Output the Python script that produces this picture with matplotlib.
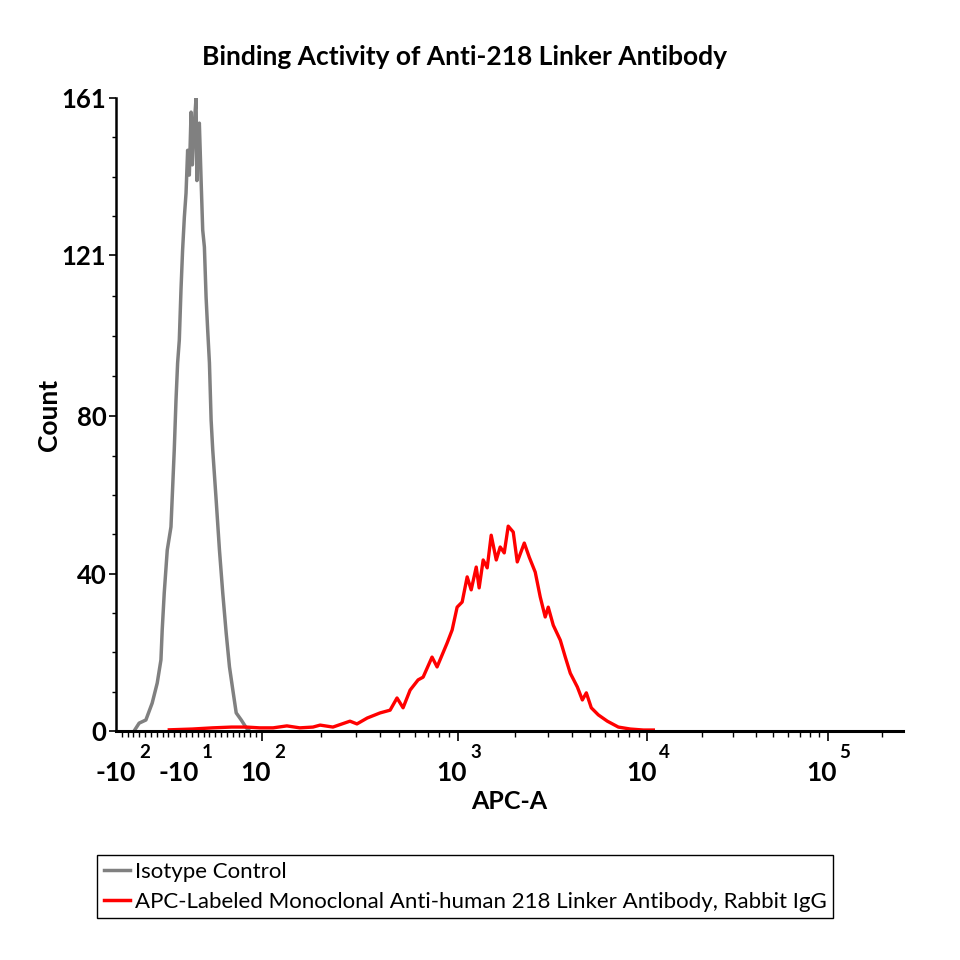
import matplotlib
matplotlib.use('Agg')
import matplotlib.pyplot as plt
import numpy as np
from matplotlib.lines import Line2D

plt.rcParams['font.family'] = ['Lato', 'DejaVu Sans']

# ---- data ----
gray_x = [-82.4, -75.2, -65.6, -56.6, -49.4, -44.1, -42.3, -39.4, -35.1, -29.8,
          -25.1, -22.6, -20.3, -17.9, -15.5, -13.2, -10.7, -8.3, -6.0, -3.6,
          -1.1, 0.7, 2.9, 6.0, 7.2, 8.3, 10.7, 13.2, 15.5, 17.9,
          20.3, 22.6, 25.1, 27.5, 29.8, 34.7, 39.4, 44.1, 49.0, 53.7,
          58.5, 63.3, 70.5, 77.7, 82.4]
gray_y = [0.0, 2.0, 2.8, 7.1, 12.2, 18.1, 25.7, 35.1, 46.0, 51.9,
          71.5, 84.2, 93.6, 99.4, 112.2, 122.3, 130.7, 136.8, 147.7, 141.4,
          157.4, 144.0, 152.8, 161.0, 140.0, 150.3, 154.6, 140.1, 127.4, 123.1,
          110.4, 102.0, 93.6, 79.1, 71.5, 58.7, 46.0, 35.1, 24.9, 16.3,
          10.4, 4.6, 2.8, 0.8, 0.0]

red_x = [-32.2, 0.7, 29.4, 56.6, 78.1, 96.7, 114, 134, 156, 182,
         198, 230, 281, 305, 344, 400, 450, 488, 524, 569,
         625, 663, 736, 781, 879, 932, 988, 1050, 1116, 1172,
         1246, 1291, 1356, 1424, 1495, 1590, 1668, 1752, 1839, 1955,
         2053, 2236, 2376, 2555, 2715, 2885, 2993, 3182, 3466, 3683,
         3914, 4265, 4533, 4758, 5054, 5506, 6142, 7025, 8128, 9524, 10790]
red_y = [0.3, 0.5, 0.8, 1.0, 1.0, 0.8, 0.8, 1.3, 0.8, 1.0,
         1.5, 1.0, 2.5, 1.8, 3.3, 4.6, 5.3, 8.4, 5.9, 10.4,
         13.0, 13.7, 18.8, 16.3, 22.4, 25.7, 31.5, 32.8, 39.2, 35.9,
         41.7, 36.4, 43.5, 41.5, 49.8, 43.5, 46.8, 45.3, 52.1, 50.6,
         43.0, 47.8, 44.2, 40.4, 34.1, 29.0, 31.5, 26.9, 23.1, 18.8,
         14.7, 11.2, 7.9, 9.7, 5.9, 4.1, 2.5, 1.0, 0.5, 0.25, 0.25]

series_labels = ['Isotype Control',
                 'APC-Labeled Monoclonal Anti-human 218 Linker Antibody, Rabbit IgG']
y_ticks = [0, 40, 80, 121, 161]
x_tick_vals = [-100, -10, 100, 1000, 10000, 100000]
x_tick_text = [('-10', '2'), ('-10', '1'), ('10', '2'), ('10', '3'), ('10', '4'), ('10', '5')]

# ---- biexponential-like axis (linear near zero, log decades outside) ----
DEC = [2, 3, 4, 5, 6]
POS = [70, 266, 455, 635, 815]
LIN = 0.7


def fwd(x):
    x = np.asarray(x, dtype=float)
    a = np.abs(x)
    far = np.interp(np.log10(np.maximum(a, 100.0)), DEC, POS)
    return np.where(a <= 100, x * LIN, np.sign(x) * far)


def inv(p):
    p = np.asarray(p, dtype=float)
    a = np.abs(p)
    lg = np.interp(np.maximum(a, 70.0), POS, DEC)
    return np.where(a <= 70, p / LIN, np.sign(p) * 10 ** lg)


fig = plt.figure(figsize=(9.6, 9.6), dpi=100)
ax = fig.add_axes([116 / 960, 1 - 731 / 960, 787 / 960, 633 / 960])
ax.set_xscale('function', functions=(fwd, inv))

ax.plot(gray_x, gray_y, color='#808080', linewidth=2.5)
ax.plot(red_x, red_y, color='#ff0000', linewidth=2.4)

ax.set_xlim(-107, 262144)
ax.set_ylim(0, 161)

for s in ['top', 'right']:
    ax.spines[s].set_visible(False)
ax.spines['bottom'].set_linewidth(2.2)
ax.spines['left'].set_linewidth(1.8)

# y ticks
ax.set_yticks(y_ticks)
ax.set_yticklabels([str(v) for v in y_ticks], fontsize=18.5, fontweight='bold')
y_minor = []
for a, b in zip(y_ticks[:-1], y_ticks[1:]):
    y_minor += list(np.linspace(a, b, 5)[1:-1])
ax.set_yticks(y_minor, minor=True)
ax.tick_params(axis='y', which='major', direction='out', length=5, width=1.2, pad=2)
ax.tick_params(axis='y', which='minor', direction='out', length=3, width=1)

# x ticks
ax.set_xticks([100, 1000, 10000, 100000])
ax.set_xticklabels([])
x_minor = list(np.linspace(-100, 100, 25))
for e in [2, 3, 4, 5]:
    x_minor += [m * 10 ** e for m in range(2, 10)]
ax.set_xticks([v for v in x_minor if v < 262144], minor=True)
ax.tick_params(axis='x', which='major', direction='out', length=7, width=1.2)
ax.tick_params(axis='x', which='minor', direction='out', length=4, width=1)

for v, (base, ex) in zip(x_tick_vals, x_tick_text):
    d = 14 if base.startswith('-') else 9
    ax.annotate(base, xy=(v, 0), xycoords=('data', 'axes fraction'),
                xytext=(d, -50), textcoords='offset pixels',
                ha='right', va='baseline', fontsize=19, fontweight='bold')
    ax.annotate(ex, xy=(v, 0), xycoords=('data', 'axes fraction'),
                xytext=(d + 3, -27), textcoords='offset pixels',
                ha='left', va='baseline', fontsize=13.5, fontweight='bold')

ax.set_xlabel('APC-A', fontsize=18, fontweight='bold')
ax.xaxis.set_label_coords(0.5, -0.093)
ax.set_ylabel('Count', fontsize=19, fontweight='bold')
ax.yaxis.set_label_coords(-0.07, 0.5)

fig.text(465 / 960, 1 - 57 / 960, 'Binding Activity of Anti-218 Linker Antibody',
         ha='center', va='center', fontsize=19, fontweight='bold')

handles = [Line2D([], [], color='#808080', linewidth=2.5),
           Line2D([], [], color='#ff0000', linewidth=2.5)]
leg = fig.legend(handles, series_labels, loc='upper left',
                 bbox_to_anchor=(97 / 960, 1 - 855 / 960),
                 frameon=True, fancybox=False, edgecolor='black', framealpha=1,
                 borderpad=0.3, handlelength=1.2, handletextpad=0.2,
                 labelspacing=0.45, borderaxespad=0, prop={'size': 16})
leg.get_frame().set_linewidth(1)

fig.savefig('out.png', dpi=100)
